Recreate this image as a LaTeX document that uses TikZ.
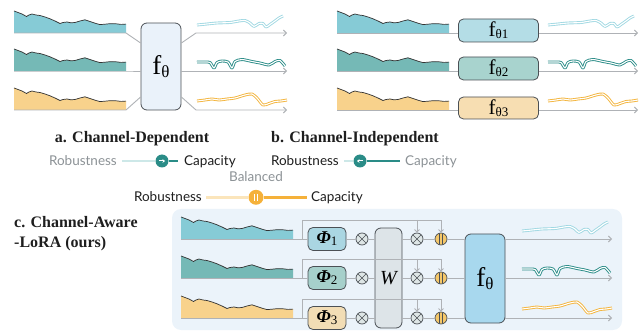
\documentclass[tikz,border=0pt]{standalone}
\usepackage{fontspec}
\setmainfont{Liberation Serif}
\newfontfamily\labelfont{Lato}
\usetikzlibrary{arrows.meta,positioning,calc}
\definecolor{chanA}{RGB}{134,203,214}
\definecolor{chanB}{RGB}{117,185,182}
\definecolor{chanC}{RGB}{248,210,140}
\definecolor{waveA}{RGB}{160,216,226}
\definecolor{waveB}{RGB}{42,140,135}
\definecolor{waveC}{RGB}{243,180,60}
\definecolor{axisgray}{RGB}{175,178,182}
\definecolor{boxline}{RGB}{75,80,85}
\definecolor{boxA}{RGB}{234,242,250}
\definecolor{panelbg}{RGB}{235,243,250}
\definecolor{indA}{RGB}{180,221,230}
\definecolor{indB}{RGB}{168,211,206}
\definecolor{indC}{RGB}{247,222,178}
\definecolor{phiA}{RGB}{170,214,226}
\definecolor{phiB}{RGB}{166,208,203}
\definecolor{phiC}{RGB}{242,221,181}
\definecolor{wfill}{RGB}{221,228,232}
\definecolor{ffill}{RGB}{168,216,238}
\definecolor{mulfill}{RGB}{222,230,230}
\definecolor{addfill}{RGB}{245,200,106}
\definecolor{tealdark}{RGB}{42,140,135}
\definecolor{teallight}{RGB}{205,232,232}
\definecolor{orangedark}{RGB}{245,177,58}
\definecolor{orangelight}{RGB}{251,229,187}
\definecolor{greytext}{RGB}{140,146,150}
\definecolor{darktext}{RGB}{30,30,30}
\newcommand{\fth}[3]{{\fontsize{#1}{#1}\selectfont f}{\fontsize{#2}{#2}\selectfont\raisebox{-0.3ex}{θ#3}}}
\newcommand{\phisym}[1]{{\fontsize{18}{18}\selectfont\bfseries\itshape Φ}{\fontsize{13}{13}\selectfont\raisebox{-0.3ex}{#1}}}
\tikzset{
    axis/.style={draw=axisgray, line width=0.9pt},
    axisarrow/.style={axis, -{Straight Barb[length=3pt,width=6pt]}},
    downarrow/.style={axis, -{Straight Barb[length=2.5pt,width=5pt]}},
    seriesedge/.style={draw=black!80, line width=0.7pt, line join=round},
    outwave/.style={draw=#1, line width=0.9pt, double=white, double distance=1.1pt, line join=round},
    bigbox/.style={rectangle, rounded corners=6pt, draw=boxline, line width=0.8pt, inner sep=0pt},
    smallbox/.style={rectangle, rounded corners=5pt, draw=boxline, line width=0.8pt, inner sep=0pt},
    mulnode/.style={circle, draw=boxline, fill=mulfill, line width=0.7pt, minimum size=12pt, inner sep=0pt,
        path picture={\draw[boxline, line width=0.7pt] (path picture bounding box.north west) -- (path picture bounding box.south east)
            (path picture bounding box.north east) -- (path picture bounding box.south west);}},
    addnode/.style={circle, draw=boxline, fill=addfill, line width=0.7pt, minimum size=12pt, inner sep=0pt,
        path picture={\draw[boxline, line width=0.9pt] ([xshift=-1.6pt]path picture bounding box.north) -- ([xshift=-1.6pt]path picture bounding box.south)
            ([xshift=1.6pt]path picture bounding box.north) -- ([xshift=1.6pt]path picture bounding box.south);}},
    title/.style={font=\fontsize{16}{18}\selectfont\bfseries, text=darktext, inner sep=0pt},
    lbl/.style={font=\labelfont\fontsize{13.5}{15}\selectfont, inner sep=0pt},
    knob/.style={circle, fill=#1, minimum size=13pt, inner sep=0pt},
    track/.style={line width=2.8pt, draw=#1},
    inseries/.pic={
        \fill[#1] (0,0) -- (0,-22) -- (4,-20.5) -- (8,-19) -- (12.5,-16.5) -- (15,-18) -- (18,-19) -- (22,-18) -- (26,-17.5)
            -- (31,-16) -- (36,-14.2) -- (41,-12) -- (46,-9.5) -- (49,-10.5) -- (53,-11) -- (57,-10.2) -- (61,-10.5)
            -- (66,-12) -- (71,-13.2) -- (76,-11.5) -- (81,-9.8) -- (86,-8.4) -- (91,-8.8) -- (96,-9.3) -- (102,-9.2)
            -- (107,-8.6) -- (112,-8.9) -- (112,0) -- cycle;
        \draw[seriesedge] (0,-22) -- (4,-20.5) -- (8,-19) -- (12.5,-16.5) -- (15,-18) -- (18,-19) -- (22,-18) -- (26,-17.5)
            -- (31,-16) -- (36,-14.2) -- (41,-12) -- (46,-9.5) -- (49,-10.5) -- (53,-11) -- (57,-10.2) -- (61,-10.5)
            -- (66,-12) -- (71,-13.2) -- (76,-11.5) -- (81,-9.8) -- (86,-8.4) -- (91,-8.8) -- (96,-9.3) -- (102,-9.2)
            -- (107,-8.6) -- (112,-8.9);
    },
    wavea/.pic={
        \draw[outwave=waveA] plot[smooth, tension=0.45] coordinates {(0,-8) (10,-9) (20,-10) (33,-10.5) (42,-12) (48,-12.5)
            (53,-10) (57,-6.5) (62,-9.5) (66,-9.5) (69,-6) (73,-8.5) (78,-12) (82,-15) (86,-17)};
    },
    waveb/.pic={
        \draw[outwave=waveB] plot[smooth, tension=0.45] coordinates {(0,-9) (8,-9) (13,-8.5) (17,-3) (20,-8.5) (25,-10)
            (31,-9) (35,-3) (38,-9.5) (45,-11.5) (55,-9.5) (63,-8) (72,-6) (78,-9.5) (83,-10.5) (88,-5)};
    },
    wavec/.pic={
        \draw[outwave=waveC] plot[smooth, tension=0.45] coordinates {(0,-9) (8,-10) (15,-11) (22,-10) (30,-11) (38,-12)
            (48,-15) (55,-16) (60,-12) (66,-5) (72,-6.5) (78,-8.5) (84,-9) (90,-10)};
    },
}
\begin{document}
\begin{tikzpicture}[x=1pt,y=-1pt]
    \useasboundingbox (0,0) rectangle (643,331);

    \pic at (14,33) {inseries=chanA};
    \pic at (14,71) {inseries=chanB};
    \pic at (14,110) {inseries=chanC};
    \node[bigbox, fill=boxA, minimum width=40pt, minimum height=87pt] (fa) at (161,66.5) {\fth{27}{17}{}};
    \coordinate (sa1) at (14,33);  \coordinate (ia1) at (126,33);
    \coordinate (sa2) at (14,71);  \coordinate (ia2) at (126,71);
    \coordinate (sa3) at (14,110); \coordinate (ia3) at (126,110);
    \coordinate (oa1) at (196,33);  \coordinate (ea1) at (287,33);
    \coordinate (ea2) at (287,71);
    \coordinate (oa3) at (196,110); \coordinate (ea3) at (287,110);
    \draw[axis] (sa1) -- (ia1) -- ([yshift=23.5pt]fa.west);
    \draw[axis] (sa2) -- (ia2) -- (ia2 -| fa.west);
    \draw[axis] (sa3) -- (ia3) -- ([yshift=-30.5pt]fa.west);
    \draw[axisarrow] ([yshift=23.5pt]fa.east) -- (oa1) -- (ea1);
    \draw[axisarrow] (ea2 -| fa.east) -- (ea2);
    \draw[axisarrow] ([yshift=-30.5pt]fa.east) -- (oa3) -- (ea3);
    \pic at (197,33) {wavea};
    \pic at (197,71) {waveb};
    \pic at (197,110) {wavec};

    \pic at (337,33) {inseries=chanA};
    \pic at (337,71) {inseries=chanB};
    \pic at (337,110) {inseries=chanC};
    \node[smallbox, fill=indA, minimum width=80pt, minimum height=23pt] (fb1) at (498.5,30.5) {\fth{21}{13}{1}};
    \node[smallbox, fill=indB, minimum width=80pt, minimum height=23pt] (fb2) at (498.5,68.5) {\fth{21}{13}{2}};
    \node[smallbox, fill=indC, minimum width=80pt, minimum height=22pt] (fb3) at (498.5,108) {\fth{21}{13}{3}};
    \coordinate (sb1) at (337,33);  \coordinate (eb1) at (638,33);
    \coordinate (sb2) at (337,71);  \coordinate (eb2) at (638,71);
    \coordinate (sb3) at (337,110); \coordinate (eb3) at (638,110);
    \draw[axis] (sb1) -- (sb1 -| fb1.west);
    \draw[axis] (sb2) -- (sb2 -| fb2.west);
    \draw[axis] (sb3) -- (sb3 -| fb3.west);
    \draw[axisarrow] (eb1 -| fb1.east) -- (eb1);
    \draw[axisarrow] (eb2 -| fb2.east) -- (eb2);
    \draw[axisarrow] (eb3 -| fb3.east) -- (eb3);
    \pic at (548,33) {wavea};
    \pic at (548,71) {waveb};
    \pic at (548,110) {wavec};

    \node[title, anchor=base] (ta) at (132,142.5) {a. Channel-Dependent};
    \node[title, anchor=base] (tb) at (355,142.5) {b. Channel-Independent};

    \node[lbl, text=greytext, anchor=base east] (roba) at (117,165.5) {Robustness};
    \node[knob=tealdark] (knoba) at (162,161) {};
    \node[lbl, text=darktext, anchor=base west] (capa) at (184,165.5) {Capacity};
    \draw[track=teallight] ([xshift=5pt]roba.east |- knoba) -- (knoba.west);
    \draw[track=tealdark] (knoba.east) -- ([xshift=-6pt]capa.west |- knoba);
    \draw[white, line width=1pt, -{Stealth[length=2.5pt,width=3.6pt]}] ([xshift=-3pt]knoba.center) -- ([xshift=3pt]knoba.center);

    \node[lbl, text=darktext, anchor=base east] (robb) at (339,165.5) {Robustness};
    \node[knob=tealdark] (knobb) at (360,161) {};
    \node[lbl, text=greytext, anchor=base west] (capb) at (405,165.5) {Capacity};
    \draw[track=teallight] ([xshift=5pt]robb.east |- knobb) -- (knobb.west);
    \draw[track=tealdark] (knobb.east) -- ([xshift=-5pt]capb.west |- knobb);
    \draw[white, line width=1pt, -{Stealth[length=2.5pt,width=3.6pt]}] ([xshift=3pt]knobb.center) -- ([xshift=-3pt]knobb.center);

    \node[lbl, text=greytext, anchor=base] (bal) at (256,181.5) {Balanced};
    \node[lbl, text=darktext, anchor=base east] (robc) at (202,202) {Robustness};
    \node[knob=orangedark, minimum size=15pt] (knobc) at (256,197.3) {};
    \node[lbl, text=darktext, anchor=base west] (capc) at (311,202) {Capacity};
    \draw[track=orangelight] ([xshift=4pt]robc.east |- knobc) -- (knobc.west);
    \draw[track=orangedark] (knobc.east) -- ([xshift=-4pt]capc.west |- knobc);
    \draw[white, line width=1pt] ([xshift=-1.5pt,yshift=3.5pt]knobc.center) -- ([xshift=-1.5pt,yshift=-3.5pt]knobc.center)
        ([xshift=1.5pt,yshift=3.5pt]knobc.center) -- ([xshift=1.5pt,yshift=-3.5pt]knobc.center);

    \fill[panelbg, rounded corners=9pt] (172,209) rectangle (622,330);
    \node[title, anchor=base west] (tc1) at (14,228) {c. Channel-Aware};
    \node[title, anchor=base west] (tc2) at ([yshift=-20pt]tc1.base west) {-LoRA (ours)};

    \pic at (181,239) {inseries=chanA};
    \pic at (181,278) {inseries=chanB};
    \pic at (181,318) {inseries=chanC};
    \node[smallbox, fill=phiA, minimum width=38pt, minimum height=23pt] (phi1) at (327,239) {\phisym{1}};
    \node[smallbox, fill=phiB, minimum width=38pt, minimum height=23pt] (phi2) at (327,278) {\phisym{2}};
    \node[smallbox, fill=phiC, minimum width=38pt, minimum height=23pt] (phi3) at (327,318) {\phisym{3}};
    \node[mulnode] (ma1) at (362,239) {};
    \node[mulnode] (ma2) at (362,278) {};
    \node[mulnode] (ma3) at (362,318) {};
    \node[bigbox, fill=wfill, minimum width=27pt, minimum height=100pt] (wm) at (388.5,278) {\fontsize{20}{20}\selectfont\itshape W};
    \node[mulnode] (mb1) at (417,239) {};
    \node[mulnode] (mb2) at (417,278) {};
    \node[mulnode] (mb3) at (417,318) {};
    \node[addnode] (ad1) at (441,239) {};
    \node[addnode] (ad2) at (441,278) {};
    \node[addnode] (ad3) at (441,318) {};
    \node[bigbox, fill=ffill, minimum width=40pt, minimum height=89pt] (fc) at (485,278.5) {\fth{27}{17}{}};

    \coordinate (sc1) at (181,239); \coordinate (br1) at (302,239); \coordinate (tp1) at (302,220); \coordinate (ec1) at (612,239);
    \coordinate (sc2) at (181,278); \coordinate (br2) at (302,278); \coordinate (tp2) at (302,259); \coordinate (ec2) at (612,278);
    \coordinate (sc3) at (181,318); \coordinate (br3) at (302,318); \coordinate (tp3) at (302,299); \coordinate (ec3) at (612,318);

    \draw[axis] (sc1) -- (phi1.west);
    \draw[axis] (sc2) -- (phi2.west);
    \draw[axis] (sc3) -- (phi3.west);
    \draw[downarrow] (br1) -- (tp1) -| (ad1.north);
    \draw[downarrow] (br2) -- (tp2) -| (ad2.north);
    \draw[downarrow] (br3) -- (tp3) -| (ad3.north);
    \draw[downarrow] (tp1 -| mb1) -- (mb1.north);
    \draw[downarrow] (tp2 -| mb2) -- (mb2.north);
    \draw[downarrow] (tp3 -| mb3) -- (mb3.north);
    \draw[axis] (phi1) -- (ma1) -- (ma1 -| wm.west);
    \draw[axis] (phi2) -- (ma2) -- (ma2 -| wm.west);
    \draw[axis] (phi3) -- (ma3) -- (ma3 -| wm.west);
    \draw[axis] (mb1 -| wm.east) -- (mb1) -- (ad1) -- (ad1 -| fc.west);
    \draw[axis] (mb2 -| wm.east) -- (mb2) -- (ad2) -- (ad2 -| fc.west);
    \draw[axis] (mb3 -| wm.east) -- (mb3) -- (ad3) -- (ad3 -| fc.west);
    \draw[axisarrow] (ec1 -| fc.east) -- (ec1);
    \draw[axisarrow] (ec2 -| fc.east) -- (ec2);
    \draw[axisarrow] (ec3 -| fc.east) -- (ec3);
    \pic at (522,239) {wavea};
    \pic at (522,278) {waveb};
    \pic at (522,318) {wavec};
\end{tikzpicture}
\end{document}
